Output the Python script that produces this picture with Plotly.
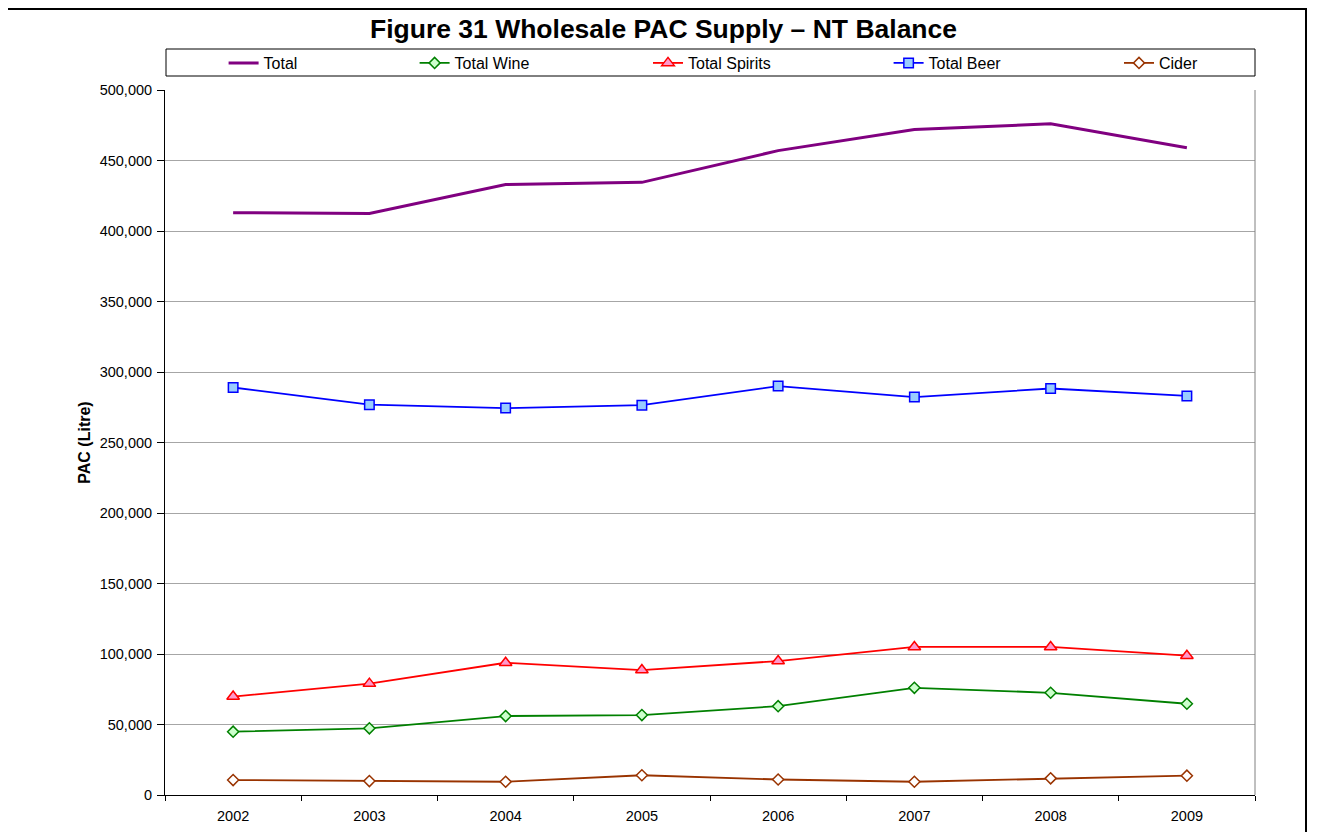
import plotly.graph_objects as go

years = ["2002", "2003", "2004", "2005", "2006", "2007", "2008", "2009"]
total = [413000, 412500, 433000, 434500, 457000, 472000, 476000, 459000]
total_wine = [44900, 47300, 56000, 56700, 63000, 76000, 72500, 64700]
total_spirits = [69800, 79000, 93800, 88600, 95000, 105000, 105000, 98800]
total_beer = [289000, 276800, 274400, 276500, 290000, 282200, 288300, 283000]
cider = [10600, 9900, 9400, 14000, 11000, 9400, 11800, 13700]

FONT = "Liberation Sans, Arial, sans-serif"

# page offset (browser body margin)
OFF = 8
FW, FH = 1324 - OFF, 832 - OFF

# plot area in page pixels
L, R, T, B = 165, 1255, 90, 795
W = R - L
H = B - T

def px(x):
    return (x - L) / W

def py(y):
    return (B - y) / H

fig = go.Figure()
fig.add_trace(go.Scatter(x=years, y=total, name="Total", mode="lines", legend="legend",
                         line=dict(color="#800080", width=3)))
fig.add_trace(go.Scatter(x=years, y=total_wine, name="Total Wine", mode="lines+markers", legend="legend2",
                         line=dict(color="#008000", width=1.8),
                         marker=dict(symbol="diamond", size=8.5, color="#ccffcc",
                                     line=dict(color="#008000", width=1.5))))
fig.add_trace(go.Scatter(x=years, y=total_spirits, name="Total Spirits", mode="lines+markers", legend="legend3",
                         line=dict(color="#ff0000", width=1.8),
                         marker=dict(symbol="triangle-up", size=11, color="#ff99cc",
                                     line=dict(color="#ff0000", width=1.5))))
fig.add_trace(go.Scatter(x=years, y=total_beer, name="Total Beer", mode="lines+markers", legend="legend4",
                         line=dict(color="#0000ff", width=1.8),
                         marker=dict(symbol="square", size=9.5, color="#99ccff",
                                     line=dict(color="#0000ff", width=1.5))))
fig.add_trace(go.Scatter(x=years, y=cider, name="Cider", mode="lines+markers", legend="legend5",
                         line=dict(color="#993300", width=1.8),
                         marker=dict(symbol="diamond", size=8.5, color="#ffffff",
                                     line=dict(color="#993300", width=1.5))))

shapes = [
    # outer chart border
    dict(type="rect", xref="paper", yref="paper", x0=px(7), x1=px(1306), y0=py(870), y1=py(9),
         line=dict(color="black", width=2), fillcolor="rgba(0,0,0,0)", layer="below"),
    # legend box
    dict(type="rect", xref="paper", yref="paper", x0=px(166), x1=px(1255), y0=py(76), y1=py(49),
         line=dict(color="black", width=1), fillcolor="rgba(0,0,0,0)"),
    # right border of plot area
    dict(type="line", xref="paper", yref="paper", x0=1, x1=1, y0=0, y1=1,
         line=dict(color="#808080", width=1)),
]

legend_text_x = [263.6, 454.6, 688, 928.6, 1159]
legend_common = dict(orientation="h", xanchor="left", y=py(63), yanchor="middle",
                     bgcolor="rgba(0,0,0,0)", borderwidth=0,
                     font=dict(family=FONT, size=16, color="black"))
legends = {}
for i, tx in enumerate(legend_text_x):
    key = "legend" if i == 0 else f"legend{i + 1}"
    legends[key] = dict(x=px(tx - 40), **legend_common)

fig.update_layout(
    width=FW, height=FH,
    margin=dict(l=L - OFF, r=FW - (R - OFF), t=T - OFF, b=FH - (B - OFF), autoexpand=False),
    paper_bgcolor="white", plot_bgcolor="white",
    font=dict(family=FONT, size=14, color="black"),
    title=dict(text="<b>Figure 31 Wholesale PAC Supply – NT Balance</b>",
               x=(663.5 - OFF) / FW, xref="container", xanchor="center",
               y=1 - (29 - OFF) / FH, yref="container", yanchor="middle",
               font=dict(family=FONT, size=26.5, color="black")),
    showlegend=True,
    shapes=shapes,
    xaxis=dict(type="category", range=[-0.5, 7.5], showgrid=False,
               showline=True, linecolor="black", linewidth=1,
               ticks="outside", tickson="boundaries", ticklen=5, tickcolor="black",
               ticklabelstandoff=8,
               tickfont=dict(family=FONT, size=14.5), zeroline=False),
    yaxis=dict(range=[0, 500000], dtick=50000, tickformat=",d",
               showgrid=True, gridcolor="#a6a6a6", gridwidth=1,
               showline=True, linecolor="black", linewidth=1,
               ticks="outside", ticklen=7, tickcolor="black",
               ticklabelstandoff=2,
               tickfont=dict(family=FONT, size=14.5), zeroline=False,
               title=dict(text="<b>PAC (Litre)</b>", font=dict(family=FONT, size=16), standoff=5)),
    **legends,
)

fig.write_html("out.html")
